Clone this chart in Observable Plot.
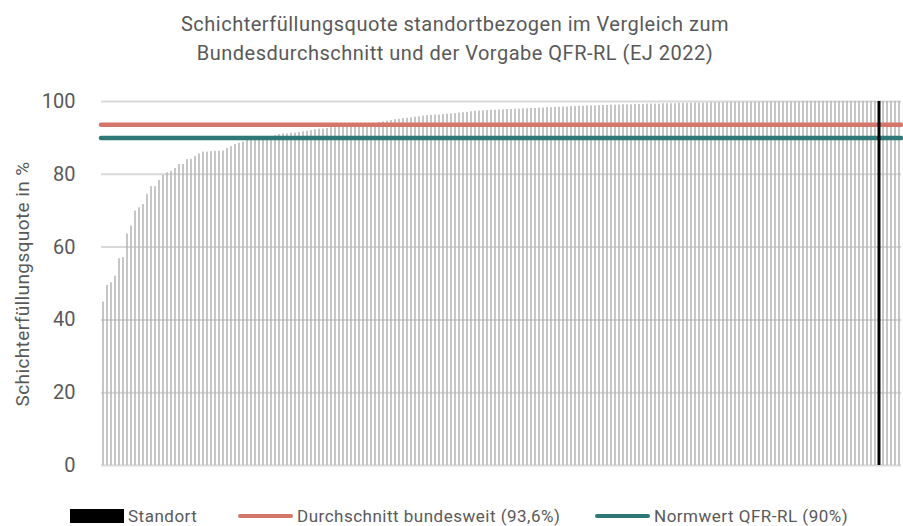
<!DOCTYPE html>
<html>
<head>
<meta charset="utf-8">
<script src="https://cdn.jsdelivr.net/npm/d3@7"></script>
<script src="https://cdn.jsdelivr.net/npm/@observablehq/plot@0.6"></script>
<style>
  html, body { margin: 0; padding: 0; background: #fff; }
  body { width: 903px; height: 526px; position: relative; overflow: hidden; font-family: Roboto, "Noto Sans", sans-serif; color: #595959; }
  #title { position: absolute; left: 0; width: 910px; top: 10px; text-align: center; font-size: 20px; letter-spacing: 0.5px; line-height: 29px; color: #595959; }
  #ylabel { position: absolute; left: 22px; top: 284px; transform: translate(-50%, -50%) rotate(-90deg); white-space: nowrap; font-size: 19px; letter-spacing: 0.4px; color: #595959; }
  #chart { position: absolute; left: 0; top: 0; }
  .leg { position: absolute; top: 506px; font-size: 17px; letter-spacing: 0.5px; line-height: 20px; color: #595959; white-space: nowrap; display: flex; align-items: center; }
  .sw-box { width: 54px; height: 14px; background: #000; margin-right: 4px; }
  .sw-line { width: 55px; height: 4px; border-radius: 2px; margin-right: 4px; }
</style>
</head>
<body>
<div id="title">Schichterfüllungsquote standortbezogen im Vergleich zum<br>Bundesdurchschnitt und der Vorgabe QFR-RL (EJ 2022)</div>
<div id="chart"></div>
<div id="ylabel">Schichterfüllungsquote in %</div>
<div class="leg" style="left:70px"><div class="sw-box"></div>Standort</div>
<div class="leg" style="left:238px"><div class="sw-line" style="background:#d4776a"></div>Durchschnitt bundesweit (93,6%)</div>
<div class="leg" style="left:595px"><div class="sw-line" style="background:#2e7877"></div>Normwert QFR-RL (90%)</div>
<script>
// Schichterfüllungsquote per site, sorted ascending (values in %)
const quoten = [
  44.9, 49.5, 50.2, 52.0, 56.8, 57.1, 63.6, 65.8, 69.9, 70.8,
  71.7, 74.5, 76.6, 76.6, 78.3, 79.7, 80.4, 80.8, 81.6, 82.7,
  82.7, 84.0, 84.1, 84.9, 85.6, 86.1, 86.1, 86.2, 86.3, 86.3,
  86.4, 87.1, 87.6, 88.2, 88.5, 88.9, 89.3, 89.5, 89.6, 89.8,
  89.9, 90.1, 90.3, 90.6, 90.9, 91.1, 91.1, 91.3, 91.3, 91.5,
  91.7, 91.8, 92.0, 92.2, 92.4, 92.4, 92.6, 92.8, 92.8, 92.9,
  93.0, 93.1, 93.2, 93.3, 93.4, 93.5, 93.6, 93.7, 93.9, 94.2,
  94.4, 94.6, 94.8, 95.0, 95.1, 95.3, 95.4, 95.5, 95.7, 95.8,
  96.0, 96.1, 96.2, 96.3, 96.3, 96.4, 96.5, 96.6, 96.7, 96.8,
  96.9, 97.0, 97.2, 97.3, 97.4, 97.4, 97.5, 97.6, 97.6, 97.7,
  97.7, 97.8, 97.8, 97.9, 97.9, 98.0, 98.0, 98.1, 98.1, 98.2,
  98.2, 98.3, 98.3, 98.4, 98.4, 98.5, 98.5, 98.6, 98.6, 98.7,
  98.7, 98.8, 98.8, 98.8, 98.9, 98.9, 98.9, 99.0, 99.0, 99.0,
  99.1, 99.1, 99.1, 99.2, 99.2, 99.2, 99.3, 99.3, 99.3, 99.3,
  99.4, 99.4, 99.4, 99.4, 99.5, 99.5, 99.5, 99.5, 99.6, 99.6,
  99.6, 99.6, 99.7, 99.7, 99.7, 99.7, 99.8, 99.8, 99.8, 99.8,
  99.8, 99.8, 99.8, 99.8, 99.8, 99.9, 99.9, 99.9, 99.9, 99.9,
  99.9, 99.9, 99.9, 99.9, 99.9, 100, 100, 100, 100, 100,
  100, 100, 100, 100, 100, 100, 100, 100, 100, 100,
  100, 100, 100, 100, 100, 100, 100, 100, 100, 100
];
const standortIndex = 194;          // 0-based position of the own site
const durchschnitt = [93.6];        // Durchschnitt bundesweit
const normwert = [90];              // Normwert QFR-RL
const yTicks = [0, 20, 40, 60, 80, 100];

const rows = quoten.map((v, i) => ({i, v}));
const others = rows.filter(d => d.i !== standortIndex);
const own = rows.filter(d => d.i === standortIndex);

const chart = Plot.plot({
  width: 903,
  height: 526,
  marginTop: 101,
  marginBottom: 61,
  marginLeft: 101,
  marginRight: 2,
  style: {fontFamily: "Roboto, 'Noto Sans', sans-serif", background: "transparent", color: "#595959"},
  x: {type: "band", domain: rows.map(d => d.i), padding: 0, axis: null},
  y: {domain: [0, 100], axis: null},
  marks: [
    Plot.ruleY(yTicks, {stroke: "#d9d9d9", strokeWidth: 2}),
    Plot.barY(others, {x: "i", y: "v", fill: "#b4b4b4", insetLeft: 1.25, insetRight: 1.25}),
    Plot.ruleY(durchschnitt, {stroke: "#d4776a", strokeWidth: 4.5, strokeLinecap: "round"}),
    Plot.ruleY(normwert, {stroke: "#2e7877", strokeWidth: 4.5, strokeLinecap: "round"}),
    Plot.barY(own, {x: "i", y: "v", fill: "#000", insetLeft: 0.5, insetRight: 0.5}),
    Plot.axisY({ticks: yTicks, tickSize: 0, tickPadding: 26, fontSize: 20, fill: "#595959", label: null})
  ]
});
document.getElementById("chart").appendChild(chart);
</script>
</body>
</html>
